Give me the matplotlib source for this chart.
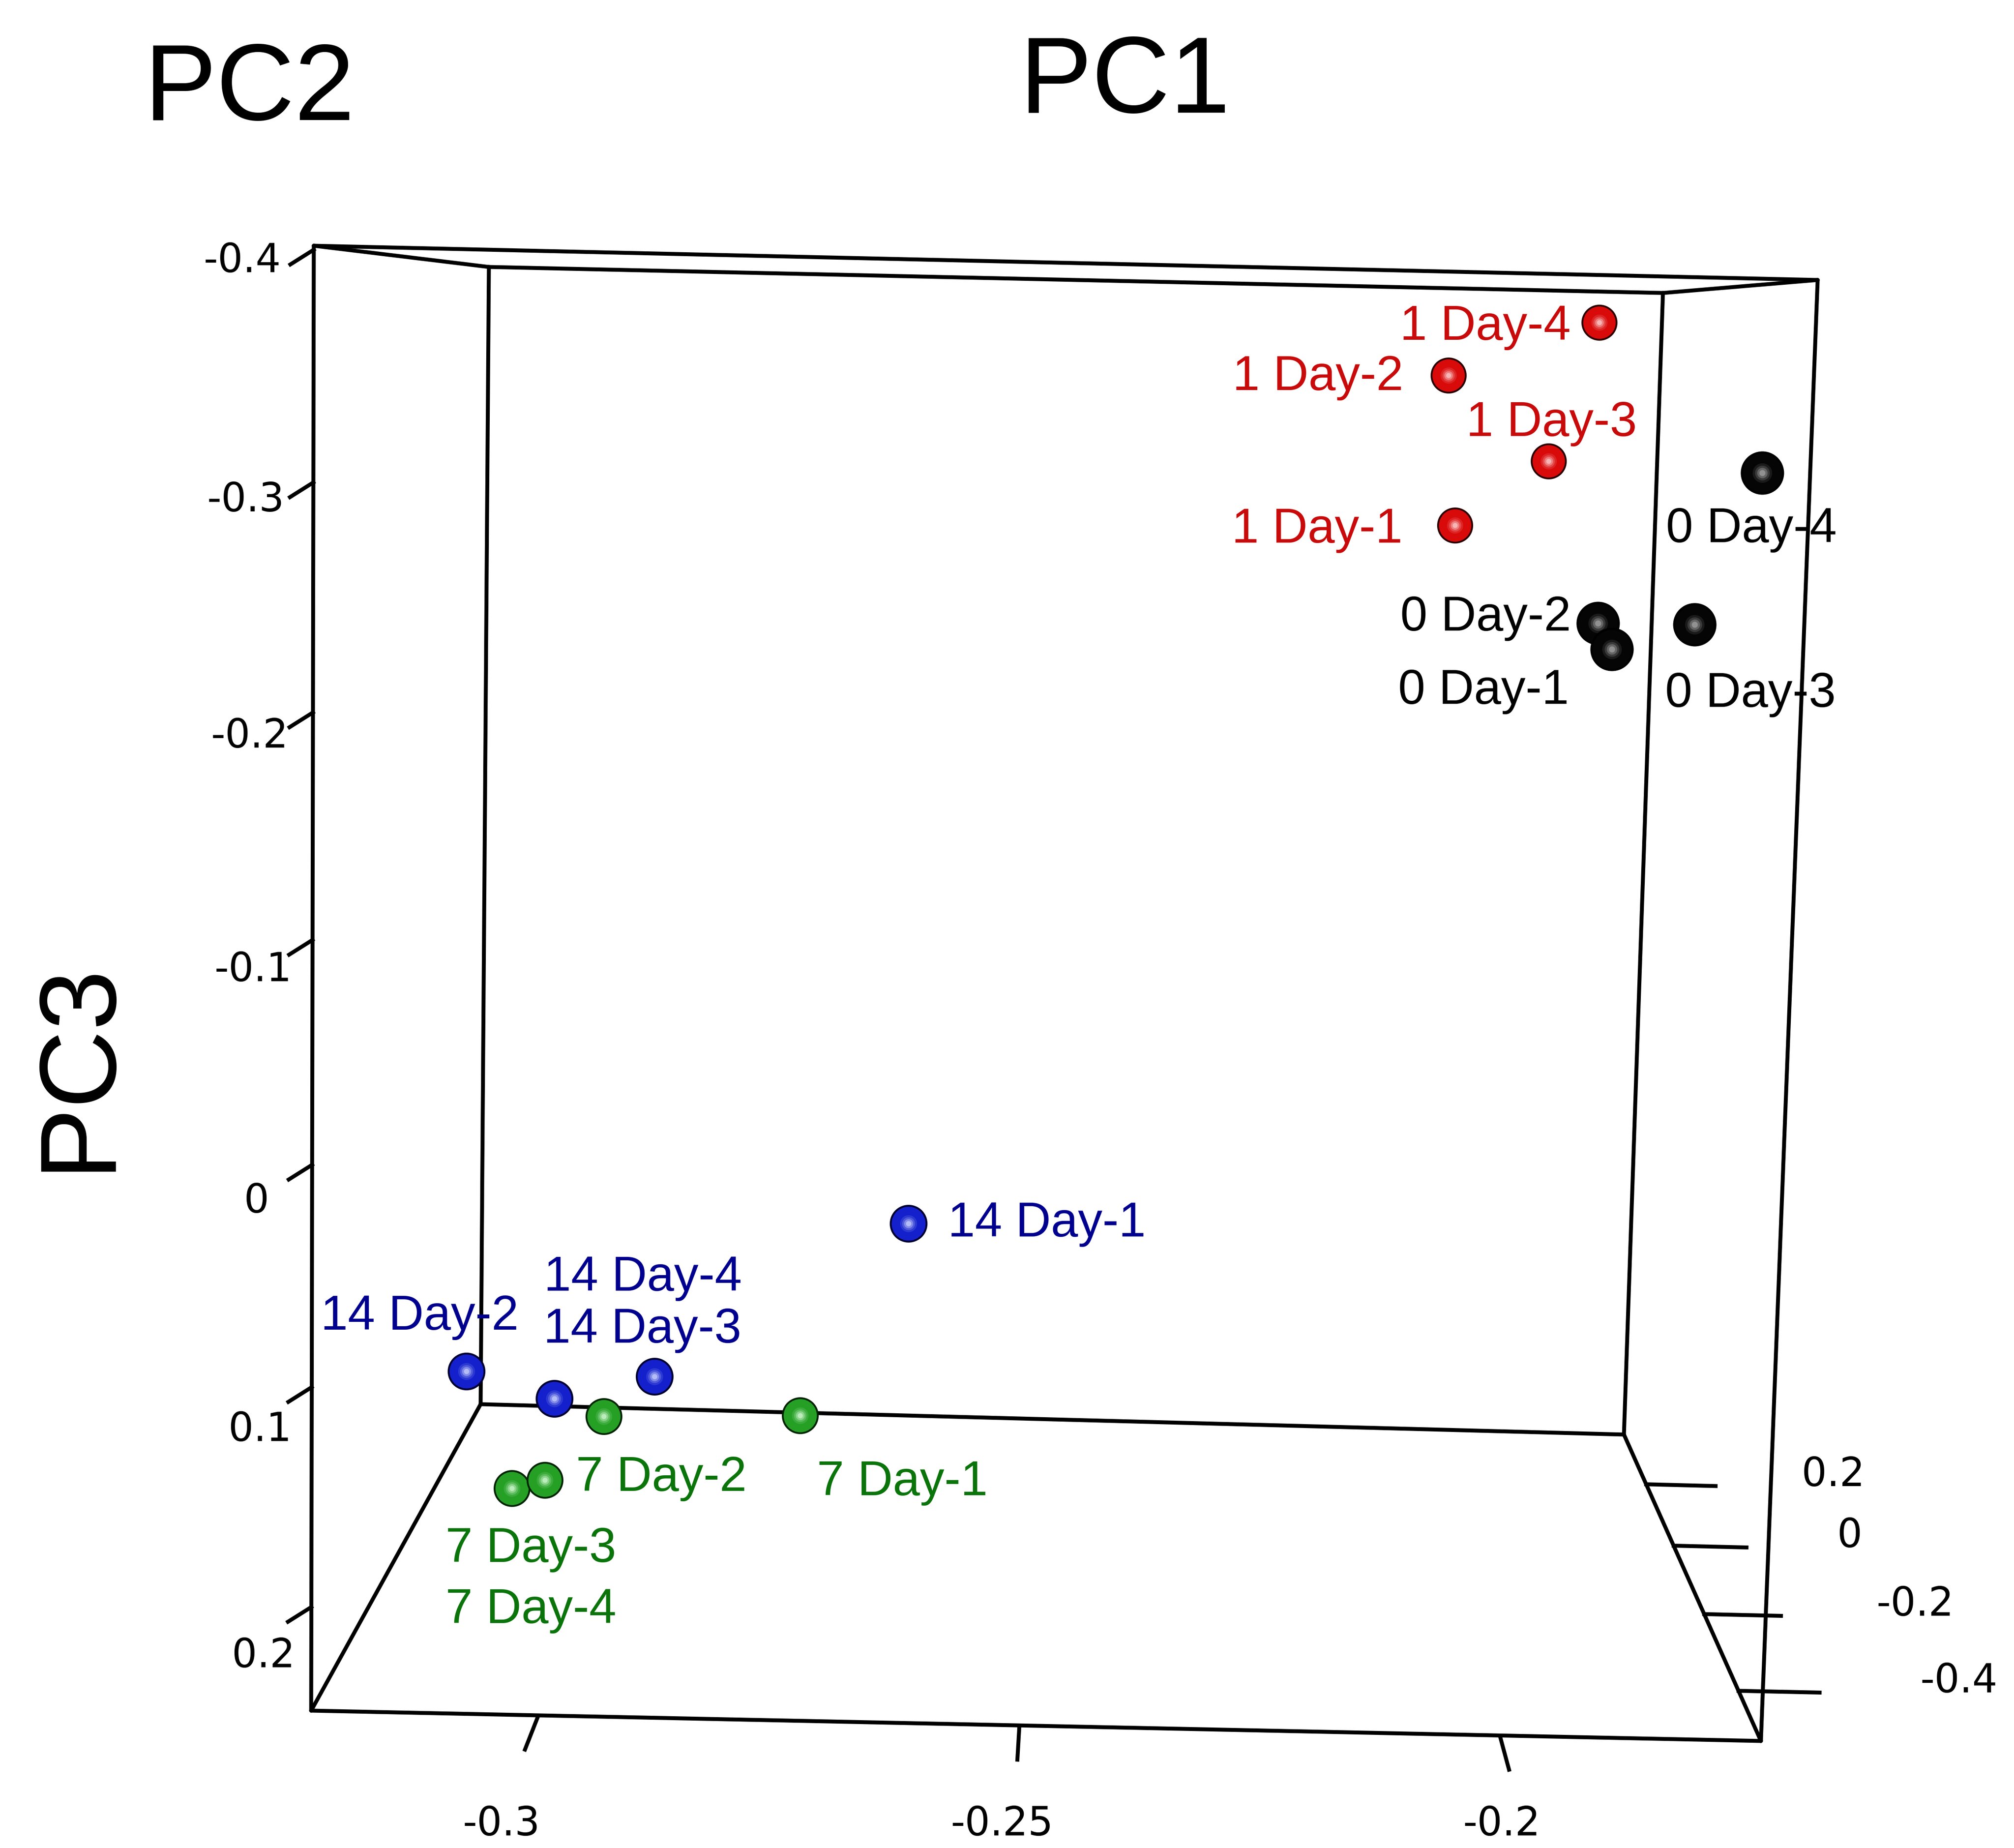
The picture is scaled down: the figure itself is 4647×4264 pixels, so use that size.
import numpy as np
import matplotlib
matplotlib.use("Agg")
import matplotlib.pyplot as plt

plt.rcParams['font.family'] = ['Liberation Sans', 'DejaVu Sans']

# PCA scores
samples = ['0 Day-1', '0 Day-2', '0 Day-3', '0 Day-4',
           '1 Day-1', '1 Day-2', '1 Day-3', '1 Day-4',
           '7 Day-1', '7 Day-2', '7 Day-3', '7 Day-4',
           '14 Day-1', '14 Day-2', '14 Day-3', '14 Day-4']
groups = ['0 Day'] * 4 + ['1 Day'] * 4 + ['7 Day'] * 4 + ['14 Day'] * 4
pc1 = [-0.1890, -0.1895, -0.1789, -0.1754,
       -0.2005, -0.2014, -0.1899, -0.1823,
       -0.2781, -0.3024, -0.3112, -0.3061,
       -0.2652, -0.3228, -0.3093, -0.2982]
pc2 = [-0.32, -0.25, -0.25, -0.41,
       0.20, 0.24, 0.15, 0.28,
       0.02, 0.06, -0.07, -0.14,
       -0.03, 0.24, 0.11, 0.20]
pc3 = [-0.2318, -0.2410, -0.2415, -0.3164,
       -0.2743, -0.3540, -0.3105, -0.3842,
       0.1927, 0.2020, 0.2200, 0.2035,
       0.0831, 0.2072, 0.2009, 0.2013]

pc1_ticks = [-0.3, -0.25, -0.2]
pc2_ticks = [-0.4, -0.2, 0, 0.2]
pc3_ticks = [-0.4, -0.3, -0.2, -0.1, 0, 0.1, 0.2]

PC1_LIM = (-0.3236, -0.1728)
PC2_LIM = (-0.5188, 0.3786)   # front -> back
PC3_LIM = (-0.4017, 0.2475)   # top -> bottom

# styles
sphere = {  # rim, body, highlight, diameter (px)
    '0 Day': ('#000000', '#050505', '#b4b4b4', 100),
    '1 Day': ('#2a0000', '#d80a0a', '#ffe0e0', 83),
    '7 Day': ('#022402', '#25a025', '#e0ffe0', 85),
    '14 Day': ('#000030', '#1420cc', '#dce4ff', 87),
}
text_color = {'0 Day': '#000000', '1 Day': '#c80a0a',
              '7 Day': '#0a740a', '14 Day': '#00008e'}
# label placement: alignment, offset of the text cap-centre from the marker (px)
label_pos = {
    '0 Day-1': ('right', -99, 86), '0 Day-2': ('right', -62, -23),
    '0 Day-3': ('center', 129, 150), '0 Day-4': ('center', -25, 120),
    '1 Day-1': ('right', -121, 0), '1 Day-2': ('right', -104, -6),
    '1 Day-3': ('center', 7, -98), '1 Day-4': ('right', -66, 0),
    '7 Day-1': ('left', 39, 144), '7 Day-2': ('left', -64, 132),
    '7 Day-3': ('center', 44, 130), '7 Day-4': ('center', -32, 290),
    '14 Day-1': ('left', 91, -10), '14 Day-2': ('center', -107, -136),
    '14 Day-3': ('center', 203, -169), '14 Day-4': ('center', -27, -238),
}

# perspective box: front and back faces on the canvas (TL, TR, BR, BL)
FRONT = np.array([[724, 567], [4194, 646], [4063, 4017], [718, 3947]], float)
BACK = np.array([[1128, 616], [3837, 676], [3747, 3310], [1109, 3240]], float)
DEPTH_RATIO = 0.78


def homography(quad):
    (x0, y0), (x1, y1), (x2, y2), (x3, y3) = quad
    sx = x0 - x1 + x2 - x3
    sy = y0 - y1 + y2 - y3
    dx1, dx2 = x1 - x2, x3 - x2
    dy1, dy2 = y1 - y2, y3 - y2
    den = dx1 * dy2 - dx2 * dy1
    g = (sx * dy2 - dx2 * sy) / den
    h = (dx1 * sy - sx * dy1) / den
    return (x1 - x0 + g * x1, x3 - x0 + h * x3, x0,
            y1 - y0 + g * y1, y3 - y0 + h * y3, y0, g, h)


def face_point(hm, u, v):
    a, b, c, d, e, f, g, h = hm
    w = g * u + h * v + 1
    return (a * u + b * v + c) / w, (d * u + e * v + f) / w


HF, HB = homography(FRONT), homography(BACK)


def project(p1, p2, p3):
    u = (np.asarray(p1, float) - PC1_LIM[0]) / (PC1_LIM[1] - PC1_LIM[0])
    v = (np.asarray(p3, float) - PC3_LIM[0]) / (PC3_LIM[1] - PC3_LIM[0])
    c = (np.asarray(p2, float) - PC2_LIM[0]) / (PC2_LIM[1] - PC2_LIM[0])
    z = 1 + c * (1 / DEPTH_RATIO - 1)
    t = (1 - 1 / z) / (1 - DEPTH_RATIO)
    fx, fy = face_point(HF, u, v)
    bx, by = face_point(HB, u, v)
    return fx + t * (bx - fx), fy + t * (by - fy)


def mix(c1, c2, w):
    a = np.array(matplotlib.colors.to_rgb(c1))
    b = np.array(matplotlib.colors.to_rgb(c2))
    return tuple(a * (1 - w) + b * w)


fig = plt.figure(figsize=(46.47, 42.64), dpi=100)
ax = fig.add_axes([0, 0, 1, 1])
ax.set_xlim(0, 4647)
ax.set_ylim(4264, 0)
ax.axis('off')

LW = 6.5
TICK_FONT = dict(fontsize=66, family=['DejaVu Sans'])
# box edges
lims = [PC1_LIM, PC2_LIM, PC3_LIM]
for axis in range(3):
    others = [i for i in range(3) if i != axis]
    for a in lims[others[0]]:
        for b in lims[others[1]]:
            p, q = [0, 0, 0], [0, 0, 0]
            p[others[0]] = q[others[0]] = a
            p[others[1]] = q[others[1]] = b
            p[axis], q[axis] = lims[axis]
            x0, y0 = project(*p)
            x1, y1 = project(*q)
            ax.plot([x0, x1], [y0, y1], color='#000000', lw=LW,
                    solid_capstyle='round', zorder=2)

# PC3 ticks on the front left edge
rng3 = PC3_LIM[1] - PC3_LIM[0]
for t in pc3_ticks:
    ex, ey = project(PC1_LIM[0], PC2_LIM[0], t)
    ax.plot([ex, ex - 54], [ey, ey + 34], color='#000000', lw=LW, zorder=2)
    v = (t - PC3_LIM[0]) / rng3
    lx = ex - 165 * (1 - v) - 106 * v
    ly = ey + 18 * (1 - v) + 112 * v
    ax.text(lx, ly + 34, f'{t:g}', ha='center', va='baseline', **TICK_FONT)

# PC1 ticks on the front bottom edge
rng1 = PC1_LIM[1] - PC1_LIM[0]
rng2 = PC2_LIM[1] - PC2_LIM[0]
for t in pc1_ticks:
    x0, y0 = project(t, PC2_LIM[0] - 0.005 * rng2, PC3_LIM[1])
    x1, y1 = project(t, PC2_LIM[0] - 0.085 * rng2, PC3_LIM[1])
    ax.plot([x0, x1], [y0, y1], color='#000000', lw=LW, zorder=2)
    u = (t - PC1_LIM[0]) / rng1
    ax.text(x0 - 104 + 131 * u, 4235, f'{t:g}', ha='center', va='baseline',
            **TICK_FONT)

# PC2 ticks on the right floor edge
for t in pc2_ticks:
    x0, y0 = project(PC1_LIM[1], t, PC3_LIM[1])
    x1, y1 = project(PC1_LIM[1] + 0.058 * rng1, t, PC3_LIM[1])
    ax.plot([x0, x1], [y0, y1], color='#000000', lw=LW, zorder=2)
    lx, _ = project(PC1_LIM[1] + 0.13 * rng1, t, PC3_LIM[1])
    ax.text(lx, y0 + 4, f'{t:g}', ha='left', va='baseline', **TICK_FONT)

# axis titles
ax.text(576, 277, 'PC2', fontsize=180, ha='center', va='baseline')
ax.text(2596, 260, 'PC1', fontsize=180, ha='center', va='baseline')
ax.text(248, 2460, 'PC3', fontsize=180, ha='center', va='baseline',
        rotation=90, rotation_mode='anchor')

# samples as shaded spheres, drawn back to front
xs, ys = project(pc1, pc2, pc3)
order = np.argsort(pc2)[::-1]
layers = [(1.00, None), (0.90, 0.0), (0.45, 0.12), (0.34, 0.3),
          (0.24, 0.55), (0.14, 0.8)]
for rank, i in enumerate(order):
    rim, body, hl, diam = sphere[groups[i]]
    for k, (scale, w) in enumerate(layers):
        col = rim if w is None else mix(body, hl, w)
        d = diam * scale
        ax.scatter([xs[i]], [ys[i]], s=(0.72 * d) ** 2, color=col,
                   linewidths=0, zorder=4 + rank * 0.01 + k * 0.001)

for i, name in enumerate(samples):
    ha, dx, dy = label_pos[name]
    ax.text(xs[i] + dx, ys[i] + dy + 40, name, fontsize=81, ha=ha,
            va='baseline', color=text_color[groups[i]], zorder=3)

fig.savefig('out.png', dpi=100, facecolor='white')
